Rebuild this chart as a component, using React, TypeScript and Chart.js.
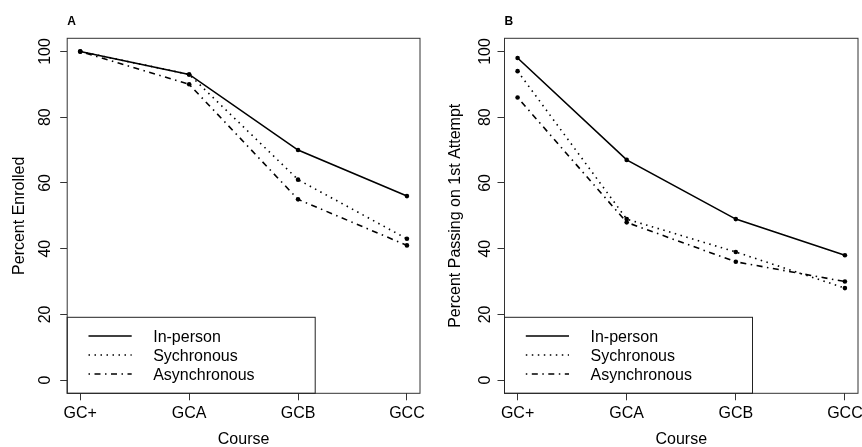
import React, { useEffect, useRef } from "react";
import { Chart, registerables } from "chart.js";

Chart.register(...registerables);

// ---- data ----
const courses = ["GC+", "GCA", "GCB", "GCC"];
const seriesNames = ["In-person", "Sychronous", "Asynchronous"];
const enrolledInPerson = [100, 93, 70, 56];
const enrolledSync = [100, 93, 61, 43];
const enrolledAsync = [100, 90, 55, 41];
const passInPerson = [98, 67, 49, 38];
const passSync = [94, 49, 39, 28];
const passAsync = [86, 48, 36, 30];
const yTickValues = [0, 20, 40, 60, 80, 100];

const FONT = "'Liberation Sans', Arial, Helvetica, sans-serif";
const DASHES: number[][] = [[], [1.5, 4.5], [1.5, 4.5, 6, 4.5]];

type Panel = {
  tag: string;
  yTitle: string;
  series: number[][];
  yWidth: number;
  padRight: number;
  yTickPad: number;
  yTitlePad: number;
};

const panels: Panel[] = [
  {
    tag: "A",
    yTitle: "Percent Enrolled",
    series: [enrolledInPerson, enrolledSync, enrolledAsync],
    yWidth: 67.2,
    padRight: 11,
    yTickPad: 1,
    yTitlePad: 12,
  },
  {
    tag: "B",
    yTitle: "Percent Passing on 1st Attempt",
    series: [passInPerson, passSync, passAsync],
    yWidth: 73.5,
    padRight: 4,
    yTickPad: -1.5,
    yTitlePad: 16.6,
  },
];

const W = 431;
const H = 447;
const PLOT_TOP = 38.3;
const X_HEIGHT = 53.7;

function decoPlugin(tag: string) {
  return {
    id: "rdeco" + tag,
    afterDraw(chart: any) {
      const { ctx, chartArea: a } = chart;
      ctx.save();
      // plot box
      ctx.strokeStyle = "#333";
      ctx.lineWidth = 1;
      ctx.setLineDash([]);
      ctx.strokeRect(a.left, a.top, a.right - a.left, a.bottom - a.top);
      // panel tag
      ctx.fillStyle = "#000";
      ctx.font = `bold 12px ${FONT}`;
      ctx.textAlign = "left";
      ctx.textBaseline = "middle";
      ctx.fillText(tag, a.left, 21.5);
      // legend
      const boxTop = 317.3;
      const boxW = 248;
      ctx.strokeStyle = "#222";
      ctx.strokeRect(a.left, boxTop, boxW, a.bottom - boxTop);
      chart.data.datasets.forEach((ds: any, i: number) => {
        const y = boxTop + 18.7 + i * 19;
        ctx.strokeStyle = "#000";
        ctx.lineWidth = ds.borderWidth;
        ctx.setLineDash(ds.borderDash || []);
        ctx.beginPath();
        ctx.moveTo(a.left + 21.3, y);
        ctx.lineTo(a.left + 64.5, y);
        ctx.stroke();
        ctx.setLineDash([]);
        ctx.font = `16px ${FONT}`;
        ctx.fillStyle = "#000";
        ctx.textBaseline = "middle";
        ctx.fillText(ds.label, a.left + 86, y + 1.5);
      });
      ctx.restore();
    },
  };
}

function PanelChart({ p }: { p: Panel }) {
  const ref = useRef<HTMLCanvasElement | null>(null);
  useEffect(() => {
    if (!ref.current) return;
    const chart = new Chart(ref.current, {
      type: "line",
      data: {
        datasets: p.series.map((vals, i) => ({
          label: seriesNames[i],
          data: vals.map((v, j) => ({ x: j + 1, y: v })),
          borderColor: "#000",
          backgroundColor: "#000",
          borderWidth: 1.6,
          borderDash: DASHES[i],
          pointRadius: 2.3,
          pointBackgroundColor: "#000",
          pointBorderWidth: 0,
          tension: 0,
          fill: false,
        })),
      },
      options: {
        responsive: false,
        animation: false,
        events: [],
        layout: { padding: { left: 0, right: p.padRight, top: PLOT_TOP, bottom: 0 } },
        plugins: { legend: { display: false }, tooltip: { enabled: false } },
        scales: {
          x: {
            type: "linear",
            min: 0.88,
            max: 4.12,
            afterBuildTicks: (s: any) => {
              s.ticks = courses.map((_, i) => ({ value: i + 1 }));
            },
            afterFit: (s: any) => {
              s.height = X_HEIGHT;
              s.paddingLeft = 0;
              s.paddingRight = 0;
            },
            ticks: {
              autoSkip: false,
              minRotation: 0,
              maxRotation: 0,
              padding: 3.6,
              color: "#000",
              font: { family: FONT, size: 16 },
              callback: (v: any) => courses[Math.round(v) - 1] ?? "",
            },
            grid: { drawOnChartArea: false, drawTicks: true, tickLength: 7, color: "#333", lineWidth: 1 },
            border: { display: false },
            title: {
              display: true,
              text: "Course",
              color: "#000",
              font: { family: FONT, size: 16, lineHeight: 1 },
              padding: { top: 0, bottom: -1 },
            },
          },
          y: {
            type: "linear",
            min: -4,
            max: 104,
            afterBuildTicks: (s: any) => {
              s.ticks = yTickValues.map((v) => ({ value: v }));
            },
            afterFit: (s: any) => {
              s.width = p.yWidth;
              s.paddingTop = 0;
              s.paddingBottom = 0;
            },
            ticks: {
              autoSkip: false,
              minRotation: 90,
              maxRotation: 90,
              crossAlign: "center",
              padding: p.yTickPad,
              color: "#000",
              font: { family: FONT, size: 16 },
              callback: (v: any) => String(v),
            },
            grid: { drawOnChartArea: false, drawTicks: true, tickLength: 7, color: "#333", lineWidth: 1 },
            border: { display: false },
            title: {
              display: true,
              text: p.yTitle,
              color: "#000",
              font: { family: FONT, size: 16, lineHeight: 1 },
              padding: { top: p.yTitlePad, bottom: 0 },
            },
          },
        },
      } as any,
      plugins: [decoPlugin(p.tag)],
    });
    return () => chart.destroy();
  }, [p]);
  return <canvas ref={ref} width={W} height={H} style={{ display: "block", width: W, height: H }} />;
}

export default function App() {
  return (
    <div
      style={{
        position: "fixed",
        left: 0,
        top: 0,
        width: 862,
        height: 447,
        background: "#fff",
        display: "flex",
        overflow: "hidden",
      }}
    >
      {panels.map((p) => (
        <PanelChart key={p.tag} p={p} />
      ))}
    </div>
  );
}
